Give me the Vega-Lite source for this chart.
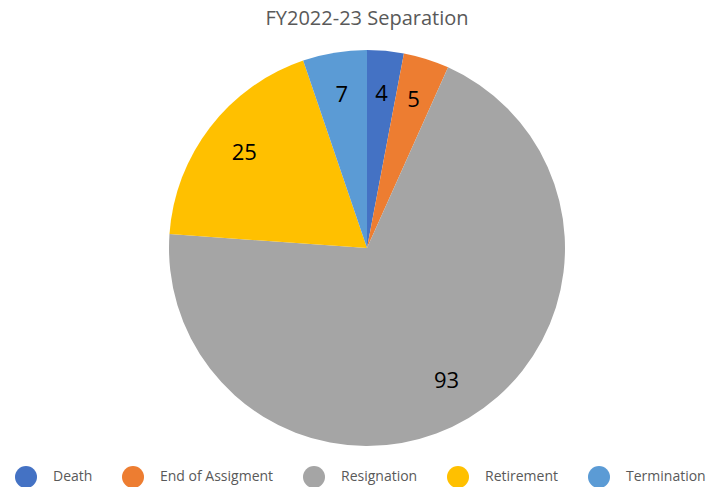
{
  "$schema": "https://vega.github.io/schema/vega-lite/v6.json",
  "width": 712,
  "height": 482,
  "autosize": "none",
  "padding": {"left": 11, "top": 7, "right": 0, "bottom": 0},
  "background": "white",
  "title": {
    "text": "FY2022-23 Separation",
    "orient": "top",
    "anchor": "middle",
    "offset": -22,
    "font": "Open Sans",
    "fontSize": 20,
    "fontWeight": "normal",
    "color": "#595959"
  },
  "data": {
    "values": [
      {"category": "Death", "value": 4, "idx": 1},
      {"category": "End of Assigment", "value": 5, "idx": 2},
      {"category": "Resignation", "value": 93, "idx": 3},
      {"category": "Retirement", "value": 25, "idx": 4},
      {"category": "Termination", "value": 7, "idx": 5}
    ]
  },
  "encoding": {
    "theta": {"field": "value", "type": "quantitative", "stack": true},
    "order": {"field": "idx", "type": "quantitative"},
    "color": {
      "field": "category",
      "type": "nominal",
      "scale": {
        "domain": ["Death", "End of Assigment", "Resignation", "Retirement", "Termination"],
        "range": ["#4472C4", "#ED7D31", "#A5A5A5", "#FFC000", "#5B9BD5"]
      },
      "legend": {
        "title": null,
        "orient": "none",
        "legendX": 4,
        "legendY": 459,
        "direction": "horizontal",
        "columns": 5,
        "symbolType": "circle",
        "symbolSize": 484,
        "symbolStrokeWidth": 0,
        "symbolOpacity": 1,
        "labelFont": "Open Sans",
        "labelFontSize": 14,
        "labelColor": "#595959",
        "labelOffset": 16,
        "columnPadding": 29,
        "labelLimit": 300
      }
    }
  },
  "layer": [
    {
      "mark": {"type": "arc", "outerRadius": 198, "stroke": "white", "strokeWidth": 0}
    },
    {
      "mark": {"type": "text", "radius": 155, "font": "Open Sans", "fontSize": 22, "color": "#000000"},
      "encoding": {
        "text": {"field": "value", "type": "quantitative"},
        "color": {"value": "#000000"}
      }
    }
  ]
}
